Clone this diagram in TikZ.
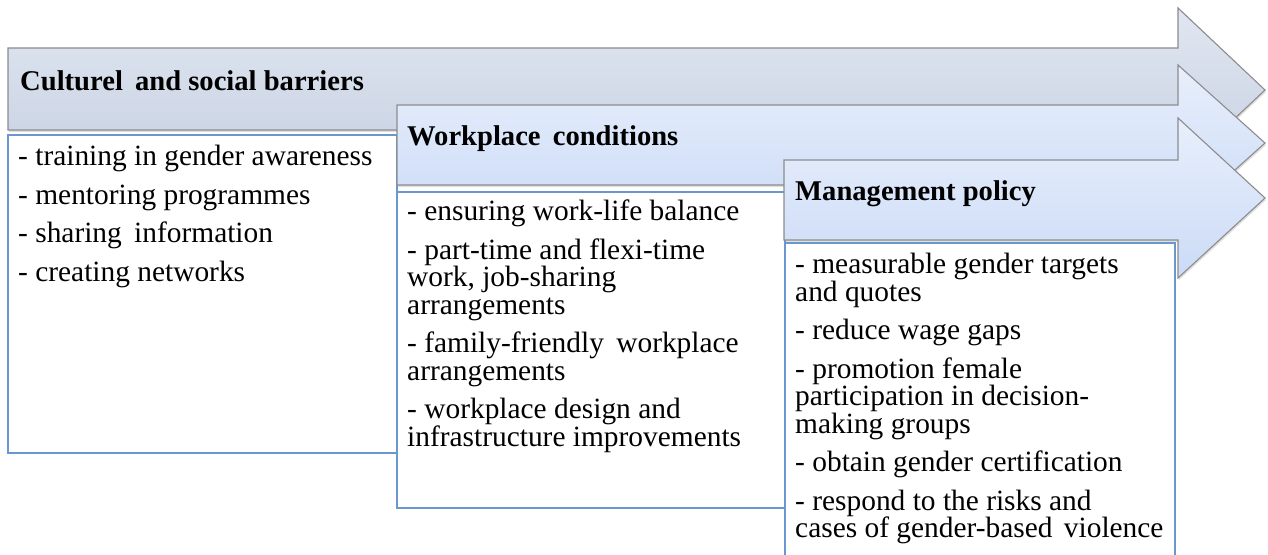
\documentclass[tikz,border=0pt]{standalone}
\usepackage{fontspec}
\setmainfont{Liberation Serif}
\usepackage{xcolor}
\usepackage{tikz}
\usetikzlibrary{shadows}

\definecolor{boxblue}{HTML}{6A97CD}
\definecolor{arrowgray}{HTML}{8C8C8C}
\definecolor{bartopA}{HTML}{E1E7F1}
\definecolor{barbotA}{HTML}{C6D0E2}
\definecolor{bartopB}{HTML}{E8EFFC}
\definecolor{barbotB}{HTML}{CBDBF6}

\begin{document}
\begin{tikzpicture}[
    x=1pt, y=-1pt,
    banner/.style={draw=arrowgray, line width=1.1pt, line join=miter, top color=bartopB, bottom color=barbotB,
        drop shadow={shadow xshift=1pt, shadow yshift=-2pt, opacity=0.25}},
    bannergray/.style={banner, top color=bartopA, bottom color=barbotA},
    itembox/.style={draw=boxblue, line width=1.8pt, fill=white},
    heading/.style={anchor=base west, inner sep=0pt, font=\fontsize{28.6}{28}\selectfont\bfseries},
    itemtext/.style={anchor=north west, inner sep=0pt, align=left,
        font={\fontsize{29.4}{27.5}\selectfont\lineskiplimit=-20pt\relax}}
]

\useasboundingbox (0,0) rectangle (1268,554);
\clip (0,0) rectangle (1268,554);
\fill[white] (0,0) rectangle (1268,554);

% Culturel and social barriers
\draw[bannergray] (8,48) -- (1178,48) -- (1178,8) -- (1265,90) -- (1178,172) -- (1178,130) -- (8,130) -- cycle;
\node[heading] (culthead) at (20,90) {Culturel\hspace{5pt} and social barriers};
\draw[itembox] (8,135) rectangle (397,453);
\node[itemtext] (cultlist) at (18,145) {\rule{0pt}{20pt}- training in gender awareness\\[11pt]
  - mentoring programmes\\[11pt]
  - sharing\hspace{5pt} information\\[11pt]
  - creating networks};

% Workplace conditions
\draw[banner] (397,105) -- (1178,105) -- (1178,65) -- (1265,143) -- (1178,221) -- (1178,185) -- (397,185) -- cycle;
\node[heading] (workhead) at (407,145) {Workplace\hspace{5pt} conditions};
\draw[itembox] (397,192) rectangle (785,508);
\node[itemtext] (worklist) at (407,200) {\rule{0pt}{20pt}- ensuring work-life balance\\[11pt]
  - part-time and flexi-time\\
  work, job-sharing\\
  arrangements\\[11pt]
  - family-friendly\hspace{5pt} workplace\\
  arrangements\\[11pt]
  - workplace design and\\
  infrastructure improvements};

% Management policy
\draw[banner] (784,160) -- (1178,160) -- (1178,118) -- (1265,198) -- (1178,278) -- (1178,240) -- (784,240) -- cycle;
\node[heading] (manhead) at (795,200) {Management policy};
\draw[itembox] (785,243) rectangle (1175,580);
\node[itemtext] (manlist) at (795,253) {\rule{0pt}{20pt}- measurable gender targets\\
  and quotes\\[11pt]
  - reduce wage gaps\\[11pt]
  - promotion female\\
  participation in decision-\\
  making groups\\[11pt]
  - obtain gender certification\\[11pt]
  - respond to the risks and\\
  cases of gender-based\hspace{4pt} violence};

\end{tikzpicture}
\end{document}
